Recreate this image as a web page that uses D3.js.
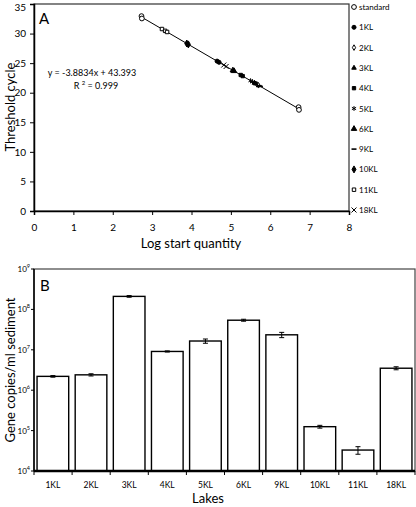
<!DOCTYPE html>
<html><head><meta charset="utf-8">
<script src="https://cdn.jsdelivr.net/npm/d3@7"></script>
<style>body{margin:0;background:#fff}svg{display:block;font-family:Lato,"Open Sans",sans-serif}</style>
</head><body><svg id="c" width="416" height="507"></svg>
<script>
// ---- Panel A data ----
const seriesA = ["standard","1KL","2KL","3KL","4KL","5KL","6KL","9KL","10KL","11KL","18KL"];
const xA = {
  "standard":[2.73,2.74,6.72,6.73],
  "1KL":[4.65,4.70],
  "2KL":[5.66,5.70],
  "3KL":[5.60,5.63],
  "4KL":[5.25,5.30],
  "5KL":[5.50,5.55],
  "6KL":[5.05,5.08],
  "9KL":[5.72,5.75],
  "10KL":[3.88,3.92],
  "11KL":[3.25,3.33,3.38],
  "18KL":[4.82,4.88]
};
const yA = {
  "standard":[32.95,32.55,17.55,17.10],
  "1KL":[25.34,25.14],
  "2KL":[21.41,21.26],
  "3KL":[21.65,21.53],
  "4KL":[23.00,22.81],
  "5KL":[22.03,21.84],
  "6KL":[23.78,23.67],
  "9KL":[21.18,21.06],
  "10KL":[28.32,28.17],
  "11KL":[30.77,30.46,30.27],
  "18KL":[24.68,24.44]
};
const fitSlope = -3.8834, fitIntercept = 43.393, fitR2 = 0.999;
const fitRange = [2.73, 6.73];
const xTicksA = [0,1,2,3,4,5,6,7,8];
const yTicksA = [0,5,10,15,20,25,30,35];

// ---- Panel B data ----
const lakes = ["1KL","2KL","3KL","4KL","5KL","6KL","9KL","10KL","11KL","18KL"];
const copies = [2.2e6,2.4e6,2.1e8,9.1e6,1.65e7,5.4e7,2.35e7,1.25e5,3.3e4,3.5e6];
const copiesErr = [0.1e6,0.15e6,0.1e8,0.3e6,0.2e7,0.3e7,0.35e7,0.1e5,0.7e4,0.3e6];
const yTicksB = [4,5,6,7,8,9];

const svg = d3.select("#c");

// ===== Panel A =====
const xa = d3.scaleLinear().domain([0,8]).range([34,349]);
const ya = d3.scaleLinear().domain([0,35]).range([211,4]);
const gA = svg.append("g");
gA.append("rect").attr("x",34).attr("y",4).attr("width",315).attr("height",207)
  .attr("fill","none").attr("stroke","#333").attr("stroke-width",1.2);
const axXA = gA.append("g").attr("transform","translate(0,211)")
  .call(d3.axisBottom(xa).tickValues(xTicksA).tickSize(4).tickPadding(9));
const axYA = gA.append("g").attr("transform","translate(34,0)")
  .call(d3.axisLeft(ya).tickValues(yTicksA).tickSize(4).tickPadding(4));
[axXA,axYA].forEach(a=>{a.select(".domain").attr("stroke","#000").attr("stroke-width",1.5);
  a.selectAll("text").attr("font-size",10).attr("fill","#000").attr("font-family","Lato,sans-serif");
  a.selectAll("line").attr("stroke","#000");});
axYA.selectAll(".tick text").filter(d=>d===35).attr("dy","0.6em");
gA.append("text").attr("x",191).attr("y",248).attr("text-anchor","middle").attr("font-size",13).text("Log start quantity");
gA.append("text").attr("transform","translate(15,107) rotate(-90)").attr("text-anchor","middle").attr("font-size",13).text("Threshold cycle");
gA.append("text").attr("x",39).attr("y",24).attr("font-size",15).text("A");
gA.append("line").attr("x1",xa(fitRange[0])).attr("y1",ya(fitSlope*fitRange[0]+fitIntercept))
  .attr("x2",xa(fitRange[1])).attr("y2",ya(fitSlope*fitRange[1]+fitIntercept)).attr("stroke","#000").attr("stroke-width",1);
gA.append("text").attr("x",92).attr("y",76).attr("text-anchor","middle").attr("font-size",9)
  .text("y = "+fitSlope+"x + "+fitIntercept);
const r2 = gA.append("text").attr("x",96).attr("y",89).attr("text-anchor","middle").attr("font-size",9);
r2.append("tspan").text("R ");
r2.append("tspan").attr("font-size",6).attr("dy",-4).text("2");
r2.append("tspan").attr("dy",4).text(" = "+fitR2);

function sym(name){
  const S = {
    "standard":{t:d3.symbolCircle,s:18,fill:"#fff"},
    "1KL":{t:d3.symbolCircle,s:13,fill:"#000"},
    "2KL":{t:d3.symbolDiamond,s:9,fill:"#fff"},
    "3KL":{t:d3.symbolTriangle,s:9,fill:"#000"},
    "4KL":{t:d3.symbolSquare,s:11,fill:"#000"},
    "5KL":{t:d3.symbolAsterisk,s:16,fill:"none"},
    "6KL":{t:d3.symbolTriangle,s:13,fill:"#000"},
    "9KL":{t:null,s:0,fill:"none"},
    "10KL":{t:d3.symbolDiamond,s:14,fill:"#000"},
    "11KL":{t:d3.symbolSquare,s:12,fill:"#fff"},
    "18KL":{t:d3.symbolTimes,s:18,fill:"none"}
  };
  return S[name];
}
function drawSym(g,name,x,y){
  const s = sym(name);
  if(!s.t){
    g.append("line").attr("x1",x-2.5).attr("x2",x+2.5).attr("y1",y).attr("y2",y).attr("stroke","#000").attr("stroke-width",1.6);
    return;
  }
  g.append("path").attr("transform",`translate(${x},${y})`).attr("d",d3.symbol(s.t,s.s)())
    .attr("fill",s.fill).attr("stroke","#000").attr("stroke-width",1);
}
seriesA.forEach(name=>{
  xA[name].forEach((xv,i)=>drawSym(gA,name,xa(xv),ya(yA[name][i])));
});
seriesA.forEach((name,i)=>{
  const y = 7 + i*20.3;
  drawSym(gA,name,354,y);
  gA.append("text").attr("x",359).attr("y",y+3).attr("font-size",8).text(name);
});

// ===== Panel B =====
const xb = d3.scaleBand().domain(lakes).range([34,415]).paddingInner(0.17).paddingOuter(0.08);
const yb = d3.scaleLog().domain([1e4,1e9]).range([471,269]);
const gB = svg.append("g");
gB.append("rect").attr("x",34).attr("y",269).attr("width",381).attr("height",202)
  .attr("fill","none").attr("stroke","#444").attr("stroke-width",1.2);
gB.selectAll("rect.bar").data(lakes).join("rect").attr("class","bar")
  .attr("x",d=>xb(d)).attr("width",xb.bandwidth())
  .attr("y",(d,i)=>yb(copies[i])).attr("height",(d,i)=>471-yb(copies[i]))
  .attr("fill","#fff").attr("stroke","#000").attr("stroke-width",1.4);
lakes.forEach((d,i)=>{
  const cx = xb(d)+xb.bandwidth()/2;
  const y1 = yb(copies[i]+copiesErr[i]), y2 = yb(copies[i]-copiesErr[i]);
  gB.append("line").attr("x1",cx).attr("x2",cx).attr("y1",y1).attr("y2",y2).attr("stroke","#000").attr("stroke-width",1);
  [y1,y2].forEach(yy=>gB.append("line").attr("x1",cx-2.5).attr("x2",cx+2.5).attr("y1",yy).attr("y2",yy).attr("stroke","#000").attr("stroke-width",1));
});
const axXB = gB.append("g").attr("transform","translate(0,471)");
axXB.append("line").attr("x1",34).attr("x2",415).attr("y1",0).attr("y2",0).attr("stroke","#000").attr("stroke-width",2.5);
d3.range(lakes.length+1).forEach(i=>{
  const x = 34 + i*(381/lakes.length);
  axXB.append("line").attr("x1",x).attr("x2",x).attr("y1",0).attr("y2",4).attr("stroke","#000");
});
lakes.forEach(d=>{
  axXB.append("text").attr("x",xb(d)+xb.bandwidth()/2).attr("y",17).attr("text-anchor","middle").attr("font-size",8.5).text(d);
});
const axYB = gB.append("g").attr("transform","translate(34,0)");
axYB.append("line").attr("x1",0).attr("x2",0).attr("y1",269).attr("y2",471).attr("stroke","#000").attr("stroke-width",1.5);
yTicksB.forEach(p=>{
  const y = yb(Math.pow(10,p));
  axYB.append("line").attr("x1",-3).attr("x2",0).attr("y1",y).attr("y2",y).attr("stroke","#000");
  const t = axYB.append("text").attr("x",-4).attr("y",y+3).attr("text-anchor","end").attr("font-size",8);
  t.append("tspan").text("10");
  t.append("tspan").attr("font-size",5.5).attr("dy",-4).text(p);
});
gB.append("text").attr("x",208).attr("y",503).attr("text-anchor","middle").attr("font-size",13).text("Lakes");
gB.append("text").attr("transform","translate(15,370) rotate(-90)").attr("text-anchor","middle").attr("font-size",13).text("Gene copies/ml sediment");
gB.append("text").attr("x",40).attr("y",291).attr("font-size",15).text("B");
</script></body></html>
